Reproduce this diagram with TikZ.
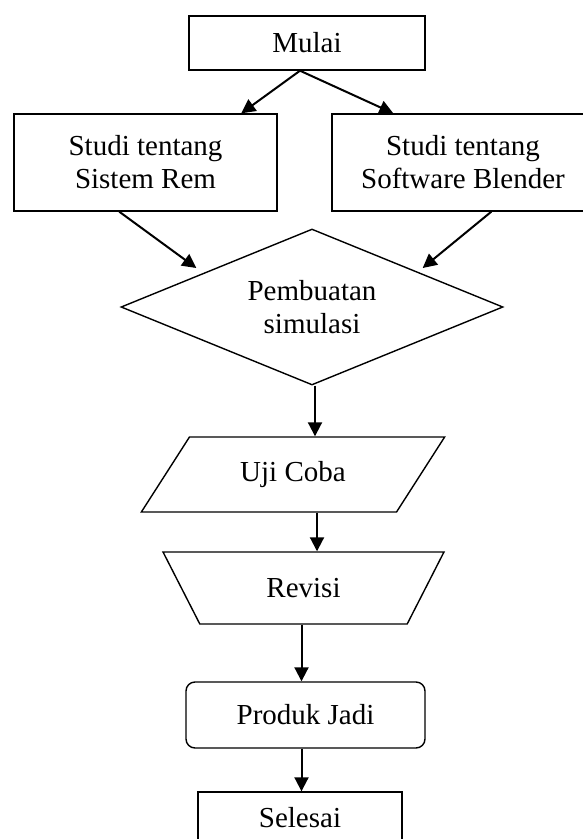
\documentclass[tikz,border=0pt]{standalone}
\usepackage{fontspec}
\setmainfont{Liberation Serif}
\usetikzlibrary{shapes.geometric,arrows.meta,calc}
\begin{document}
\begin{tikzpicture}[x=1pt,y=-1pt,
  every node/.style={font=\fontsize{29}{33}\selectfont, align=center, inner sep=0pt, line width=1.4pt},
  box/.style={draw, rectangle, minimum width=#1},
  arr/.style={line width=2pt, -{Triangle[length=14pt,width=14pt]}}
]
\useasboundingbox (0,0) rectangle (582,839);

\node[box=236pt, minimum height=54pt] (mulai) at (307,43) {Mulai};
\node[box=263pt, minimum height=97pt] (lb) at (145.5,162.5) {Studi tentang\\Sistem Rem};
\node[box=262pt, minimum height=97pt] (rb) at (463,162.5) {Studi tentang\\Software Blender};
\node[draw, diamond, aspect=2.45, minimum width=382pt, minimum height=156pt] (dia) at (312,307) {Pembuatan\\simulasi};
\node[draw, trapezium, trapezium stretches=true, trapezium left angle=47, trapezium right angle=133,
      minimum width=304pt, minimum height=75pt] (uji) at (293,474.5) {Uji Coba};
\node[draw, trapezium, trapezium stretches=true, trapezium left angle=56, trapezium right angle=56,
      shape border rotate=180, minimum width=283pt, minimum height=72pt] (rev) at (303.5,588) {Revisi};
\node[draw, rectangle, rounded corners=9pt, minimum width=239pt, minimum height=66pt] (prod) at (305.5,715) {Produk Jadi};
\node[box=204pt, minimum height=52pt] (sel) at (300,818) {Selesai};

\draw[arr] ($(mulai.south)+(-7,0)$) -- ($(lb.north west)+(228,0)$);
\draw[arr] ($(mulai.south)+(-7,0)$) -- ($(rb.north west)+(62,0)$);
\draw[arr] ($(lb.south west)+(106,0)$) -- ($(dia.west)+(76,-39)$);
\draw[arr] ($(rb.south west)+(160,0)$) -- ($(dia.east)+(-81,-39)$);
\draw[arr] ($(dia.south)+(3,0)$) -- ($(dia.south |- uji.north)+(3,0)$);
\draw[arr] ($(uji.south)+(24,0)$) -- ($(uji.south |- rev.north)+(24,0)$);
\draw[arr] ($(rev.south)+(-2,0)$) -- ($(rev.south |- prod.north)+(-2,0)$);
\draw[arr] ($(prod.south)+(-4,0)$) -- ($(prod.south |- sel.north)+(-4,0)$);
\end{tikzpicture}
\end{document}
